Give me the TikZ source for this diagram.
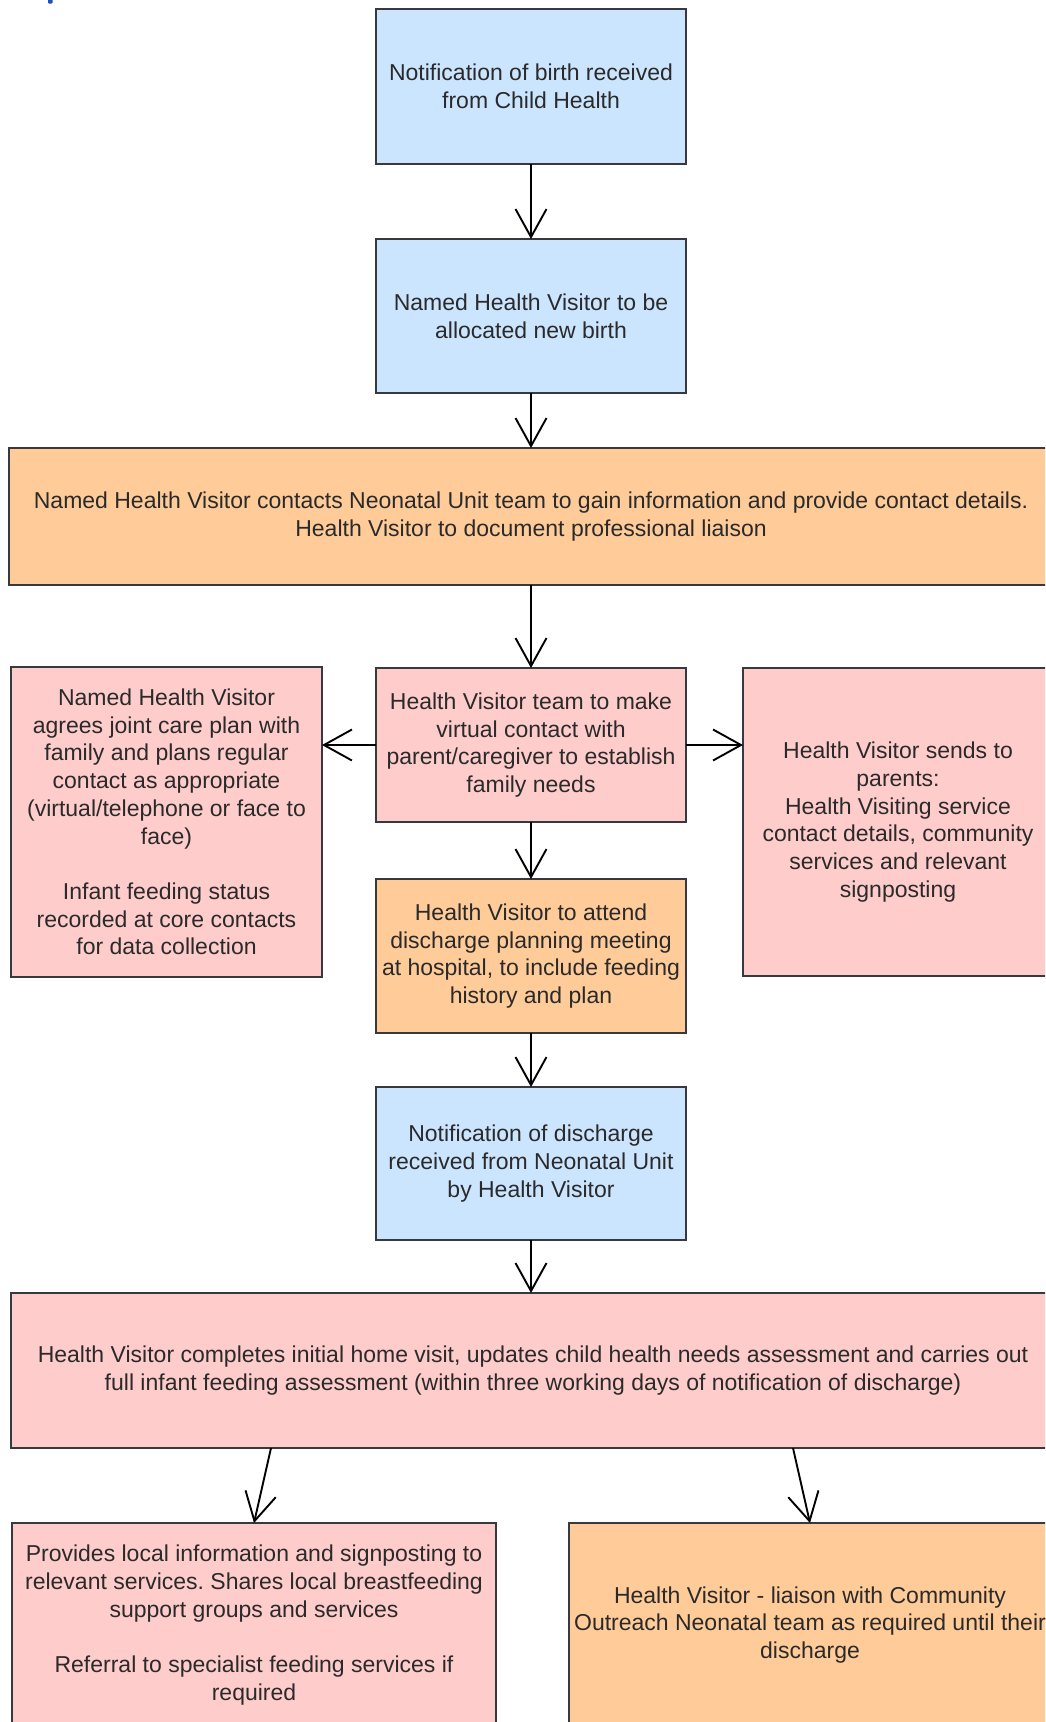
\documentclass[tikz,border=0pt]{standalone}
\usepackage{fontspec}
\setmainfont{Liberation Sans}
\usetikzlibrary{arrows.meta,calc}
\definecolor{fillblue}{HTML}{CCE5FF}
\definecolor{fillorange}{HTML}{FFCC99}
\definecolor{fillpink}{HTML}{FFCCCC}
\definecolor{edgegrey}{HTML}{36393D}
\definecolor{inktext}{HTML}{2A2A2A}
\definecolor{markblue}{HTML}{1F4FBF}
\frenchspacing

\begin{document}
\begin{tikzpicture}[x=1pt,y=-1pt,
  box/.style={draw=edgegrey, line width=2pt, rectangle, inner sep=0pt, outer sep=0pt,
    align=center, text=inktext, font=\fontsize{23}{27.7}\selectfont},
  bluebox/.style={box, fill=fillblue},
  orangebox/.style={box, fill=fillorange},
  pinkbox/.style={box, fill=fillpink},
  flow/.style={draw=black, line width=1.9pt, -{Straight Barb[length=28pt,width=31pt]}}
]
\useasboundingbox (0,0) rectangle (1045,1722);
\clip (0,0) rectangle (1045,1722);
\fill[white] (0,0) rectangle (1045,1722);

% small mark at the top edge
\fill[markblue, rounded corners=1pt] (48,-2) rectangle (52.5,3.5);

% main column
\node[bluebox, minimum width=310pt, minimum height=155pt] (birth) at (531,86.5)
  {Notification of birth received\\from Child Health};
\node[bluebox, minimum width=310pt, minimum height=154pt] (alloc) at (531,316)
  {Named Health Visitor to be\\allocated new birth};
\node[orangebox, minimum width=1044pt, minimum height=137pt] (liaise) at (531,516.5)
  {Named Health Visitor contacts Neonatal Unit team to gain information and provide contact details.\\Health Visitor to document professional liaison};
\node[pinkbox, minimum width=310pt, minimum height=154pt] (virtual) at (531,745)
  {Health Visitor team to make\\virtual contact with\\parent/caregiver to establish\\family needs};
\node[pinkbox, minimum width=311pt, minimum height=310pt] (careplan) at (166.5,822)
  {Named Health Visitor\\agrees joint care plan with\\family and plans regular\\contact as appropriate\\(virtual/telephone or face to\\face)\\[27.7pt]Infant feeding status\\recorded at core contacts\\for data collection};
\node[pinkbox, minimum width=310pt, minimum height=308pt] (sends) at (898,822)
  {Health Visitor sends to\\parents:\\Health Visiting service\\contact details, community\\services and relevant\\signposting};
\node[orangebox, minimum width=310pt, minimum height=154pt] (meeting) at (531,956)
  {Health Visitor to attend\\discharge planning meeting\\at hospital, to include feeding\\history and plan};
\node[bluebox, minimum width=310pt, minimum height=153pt] (discharge) at (531,1163.5)
  {Notification of discharge\\received from Neonatal Unit\\by Health Visitor};
\node[pinkbox, minimum width=1044pt, minimum height=155pt] (homevisit) at (533,1370.5)
  {Health Visitor completes initial home visit, updates child health needs assessment and carries out\\full infant feeding assessment (within three working days of notification of discharge)};
\node[pinkbox, minimum width=484pt, minimum height=204pt] (signpost) at (254,1625)
  {Provides local information and signposting to\\relevant services. Shares local breastfeeding\\support groups and services\\[27.7pt]Referral to specialist feeding services if\\required};
\node[orangebox, minimum width=482pt, minimum height=204pt] (outreach) at (810,1625)
  {Health Visitor - liaison with Community\\Outreach Neonatal team as required until their\\discharge};

% connectors
\draw[flow] (birth) -- (alloc);
\draw[flow] (alloc) -- (liaise.north -| alloc.south);
\draw[flow] (liaise.south -| virtual.north) -- (virtual);
\draw[flow] (virtual) -- (meeting);
\draw[flow] (virtual.west) -- (virtual.west -| careplan.east);
\draw[flow] (virtual.east) -- (virtual.east -| sends.west);
\draw[flow] (meeting) -- (discharge);
\draw[flow] (discharge) -- (homevisit.north -| discharge.south);
\coordinate (leftout) at (271,1448);
\coordinate (rightout) at (793,1448);
\draw[flow] (leftout) -- (signpost.north);
\draw[flow] (rightout) -- (outreach.north);
\end{tikzpicture}
\end{document}
